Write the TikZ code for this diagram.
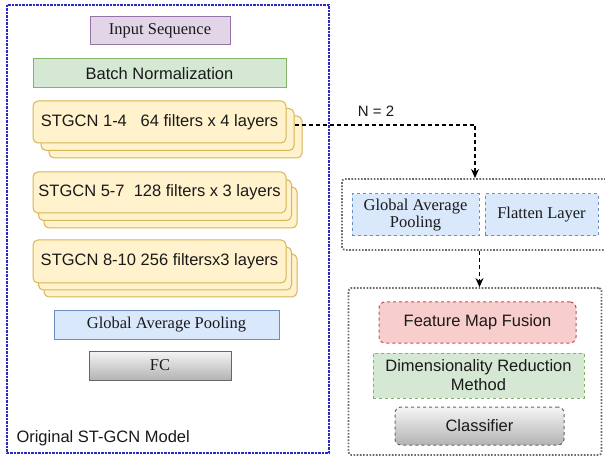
\documentclass[tikz,border=0pt]{standalone}
\usepackage{fontspec}
\setmainfont{Liberation Serif}
\setsansfont{Liberation Sans}
\usetikzlibrary{arrows.meta}
\definecolor{purpF}{HTML}{E1D5E7}\definecolor{purpD}{HTML}{9673A6}
\definecolor{grnF}{HTML}{D5E8D4}\definecolor{grnD}{HTML}{82B366}
\definecolor{yelF}{HTML}{FFF2CC}\definecolor{yelD}{HTML}{D6B656}
\definecolor{bluF}{HTML}{DAE8FC}\definecolor{bluD}{HTML}{6C8EBF}
\definecolor{redF}{HTML}{F8CECC}\definecolor{redD}{HTML}{B85450}
\definecolor{gryT}{HTML}{F5F5F5}\definecolor{gryB}{HTML}{B3B3B3}\definecolor{gryD}{HTML}{666666}
\definecolor{outerBlue}{HTML}{2B2BC8}
\definecolor{dotGray}{HTML}{6A6A6A}
\definecolor{txt}{HTML}{1A1A1A}
\tikzset{
  x=1pt,y=-1pt,
  fnt/.style={font=\fontsize{16.5}{18}\selectfont, text=txt},
  box/.style={draw, line width=1pt, inner sep=0pt, align=center, fnt},
  serifbox/.style={box, font=\rmfamily\fontsize{16.5}{18}\selectfont},
  sansbox/.style={box, font=\sffamily\fontsize{16.5}{18}\selectfont},
  stackbox/.style={sansbox, fill=yelF, draw=yelD, rounded corners=5pt, minimum width=253pt},
  graygrad/.style={top color=gryT, bottom color=gryB, draw=gryD},
  groupbox/.style={draw=dotGray, line width=1.8pt, dash pattern=on 1.6pt off 1.6pt, rounded corners=3pt},
  conn/.style={line width=1.2pt, dash pattern=on 4pt off 3pt, -{Stealth[length=9pt,width=8pt]}},
}
\begin{document}
\begin{tikzpicture}
\clip (0,0) rectangle (605,462);
\fill[white] (0,0) rectangle (605,462);

% outer model frame
\draw[outerBlue, line width=2.4pt, dash pattern=on 2.2pt off 1.3pt] (7,5) rectangle (329,453);
\node[sansbox, draw=none, anchor=west] (orig) at (16,438) {Original ST-GCN Model};

\node[serifbox, fill=purpF, draw=purpD, minimum width=140pt, minimum height=28pt] (inp) at (160,31) {Input Sequence};
\node[sansbox, fill=grnF, draw=grnD, minimum width=253pt, minimum height=29pt] (bn) at (159.5,73.5) {Batch Normalization};

% STGCN 1-4 stack
\node[stackbox, minimum height=42pt] (s1c) at (175.5,137) {};
\node[stackbox, minimum height=42pt] (s1b) at (167.5,129.5) {};
\node[stackbox, minimum height=42pt] (s1) at (159.5,122) {STGCN 1-4~~ 64 filters x 4 layers};

% STGCN 5-7 stack
\node[stackbox, minimum height=41pt] (s2c) at (170.5,207.5) {};
\node[stackbox, minimum height=41pt] (s2b) at (165,200) {};
\node[stackbox, minimum height=41pt] (s2) at (159.5,192.5) {STGCN 5-7~ 128 filters x 3 layers};

% STGCN 8-10 stack
\node[stackbox, minimum height=43pt] (s3c) at (170.5,275.5) {};
\node[stackbox, minimum height=43pt] (s3b) at (165,268.5) {};
\node[stackbox, minimum height=43pt] (s3) at (159.5,261.5) {STGCN 8-10 256 filtersx3 layers};

\node[serifbox, fill=bluF, draw=bluD, minimum width=225pt, minimum height=28pt] (gap) at (166.5,325) {Global Average Pooling};
\node[serifbox, graygrad, minimum width=142pt, minimum height=29pt] (fc) at (160,365.5) {FC};

% right group 1
\node[groupbox, minimum width=270pt, minimum height=71pt, inner sep=0pt] (g1) at (477,214.5) {};
\node[serifbox, fill=bluF, draw=bluD, dashed, minimum width=127pt, minimum height=42pt] (gap2) at (415.5,215) {Global Average\\[-1pt]Pooling};
\node[serifbox, fill=bluF, draw=bluD, dashed, minimum width=113pt, minimum height=42pt] (fl) at (541.5,215) {Flatten Layer};

% right group 2
\node[groupbox, minimum width=253pt, minimum height=167pt, inner sep=0pt] (g2) at (475,371.5) {};
\node[sansbox, fill=redF, draw=redD, dashed, rounded corners=6pt, minimum width=197pt, minimum height=41pt] (fmf) at (477.5,322.5) {Feature Map Fusion};
\node[sansbox, fill=grnF, draw=grnD, dashed, minimum width=211pt, minimum height=45pt] (drm) at (478.5,375.5) {Dimensionality Reduction\\[1pt]Method};
\node[sansbox, graygrad, dashed, rounded corners=6pt, minimum width=169pt, minimum height=38pt] (cls) at (479.5,426) {Classifier};

% connectors
\coordinate (a1end) at (475,178);
\draw[conn] (s1b.east |- 0,125) -| (a1end);
\node[sansbox, draw=none, font=\sffamily\fontsize{15}{17}\selectfont] (n2) at (376,111) {N = 2};
\draw[conn] (g1.south -| cls.center) -- (g2.north -| cls.center);
\end{tikzpicture}
\end{document}
